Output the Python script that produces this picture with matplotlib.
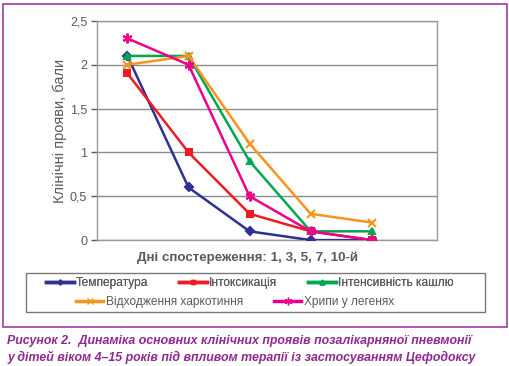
import numpy as np
import matplotlib.pyplot as plt
from matplotlib.patches import Rectangle
from matplotlib.lines import Line2D

plt.rcParams['font.family'] = ['Liberation Sans', 'DejaVu Sans']

days = ['1', '3', '5', '7', '10']
temperatura = [2.1, 0.6, 0.1, 0.0, 0.0]
intoksykatsia = [1.9, 1.0, 0.3, 0.1, 0.0]
kashel = [2.1, 2.1, 0.9, 0.1, 0.1]
kharkotynnia = [2.0, 2.1, 1.1, 0.3, 0.2]
khrypy = [2.3, 2.0, 0.5, 0.1, 0.0]

names = ['Температура', 'Інтоксикація', 'Інтенсивність кашлю',
         'Відходження харкотиння', 'Хрипи у легенях']
yticks = [0, 0.5, 1, 1.5, 2, 2.5]
ytick_labels = ['0', '0,5', '1', '1,5', '2', '2,5']

grey = '#5a5a5a'
purple = '#a23aa6'
styles = [
    ('#2e3192', 'D', 4),
    ('#ed1c24', 's', 4.5),
    ('#00a651', '^', 5),
    ('#f7941d', 'x', 6),
    ('#ec008c', (6, 2, 0), 7),
]

fig = plt.figure(figsize=(5.1, 3.66), dpi=100)
ax = fig.add_axes([0.190, 0.344, 0.667, 0.599])

x = np.arange(len(days))
series = [temperatura, intoksykatsia, kashel, kharkotynnia, khrypy]
handles = []
for vals, name, (c, m, ms) in zip(series, names, styles):
    ax.plot(x, vals, color=c, lw=1.8, marker=m, ms=ms, mew=1.5,
            mfc=c, mec=c, zorder=3)
    handles.append(Line2D([0], [0], color=c, lw=2.5, marker=m, ms=ms - 1.5,
                          mfc=c, mec=c, label=name))

ax.set_xlim(-0.5, 5.07)
ax.set_ylim(0, 2.5)
ax.set_yticks(yticks)
ax.set_yticklabels(ytick_labels)
ax.set_xticks([])
ax.grid(axis='y', color='#8c8c8c', lw=1)
ax.set_axisbelow(True)
for s in ax.spines.values():
    s.set_color('#9a9a9a')
    s.set_linewidth(1)
ax.tick_params(axis='y', colors=grey, labelsize=9, length=4, width=1,
               direction='out', pad=3)
for lbl in ax.get_yticklabels():
    lbl.set_color(grey)
ax.set_ylabel('Клінічні прояви, бали', color=grey, fontsize=10.5, labelpad=2)

fig.text(0.485, 0.295, 'Дні спостереження: 1, 3, 5, 7, 10-й', ha='center',
         va='center', fontsize=9.6, fontweight='bold', color=grey)

# legend box
fig.patches.append(Rectangle((26 / 510, 1 - 312 / 366), 459 / 510, 39 / 366,
                             transform=fig.transFigure, fill=False,
                             ec='#7a7a7a', lw=1))
leg1 = fig.legend(handles=handles[:3], ncol=3, loc='center',
                  bbox_to_anchor=(250 / 510, 1 - 283 / 366), frameon=False,
                  fontsize=8.6, handlelength=2.3, columnspacing=2.6,
                  handletextpad=0.2, labelcolor=grey)
fig.legend(handles=handles[3:], ncol=2, loc='center',
           bbox_to_anchor=(235 / 510, 1 - 302 / 366), frameon=False,
           fontsize=8.6, handlelength=2.3, columnspacing=2.6,
           handletextpad=0.2, labelcolor=grey)
fig.add_artist(leg1)

# outer purple frame
fig.patches.append(Rectangle((3 / 510, 1 - 327 / 366), 504 / 510, 323 / 366,
                             transform=fig.transFigure, fill=False,
                             ec=purple, lw=1.2))

fig.text(0.014, 1 - 341 / 366,
         'Рисунок 2.  Динаміка основних клінічних проявів позалікарняної пневмонії',
         ha='left', va='center', fontsize=8.9, fontweight='bold',
         style='italic', color='#8e2a8e')
fig.text(0.014, 1 - 357 / 366,
         'у дітей віком 4–15 років під впливом терапії із застосуванням Цефодоксу',
         ha='left', va='center', fontsize=8.9, fontweight='bold',
         style='italic', color='#8e2a8e')

fig.savefig('out.png', dpi=100)
